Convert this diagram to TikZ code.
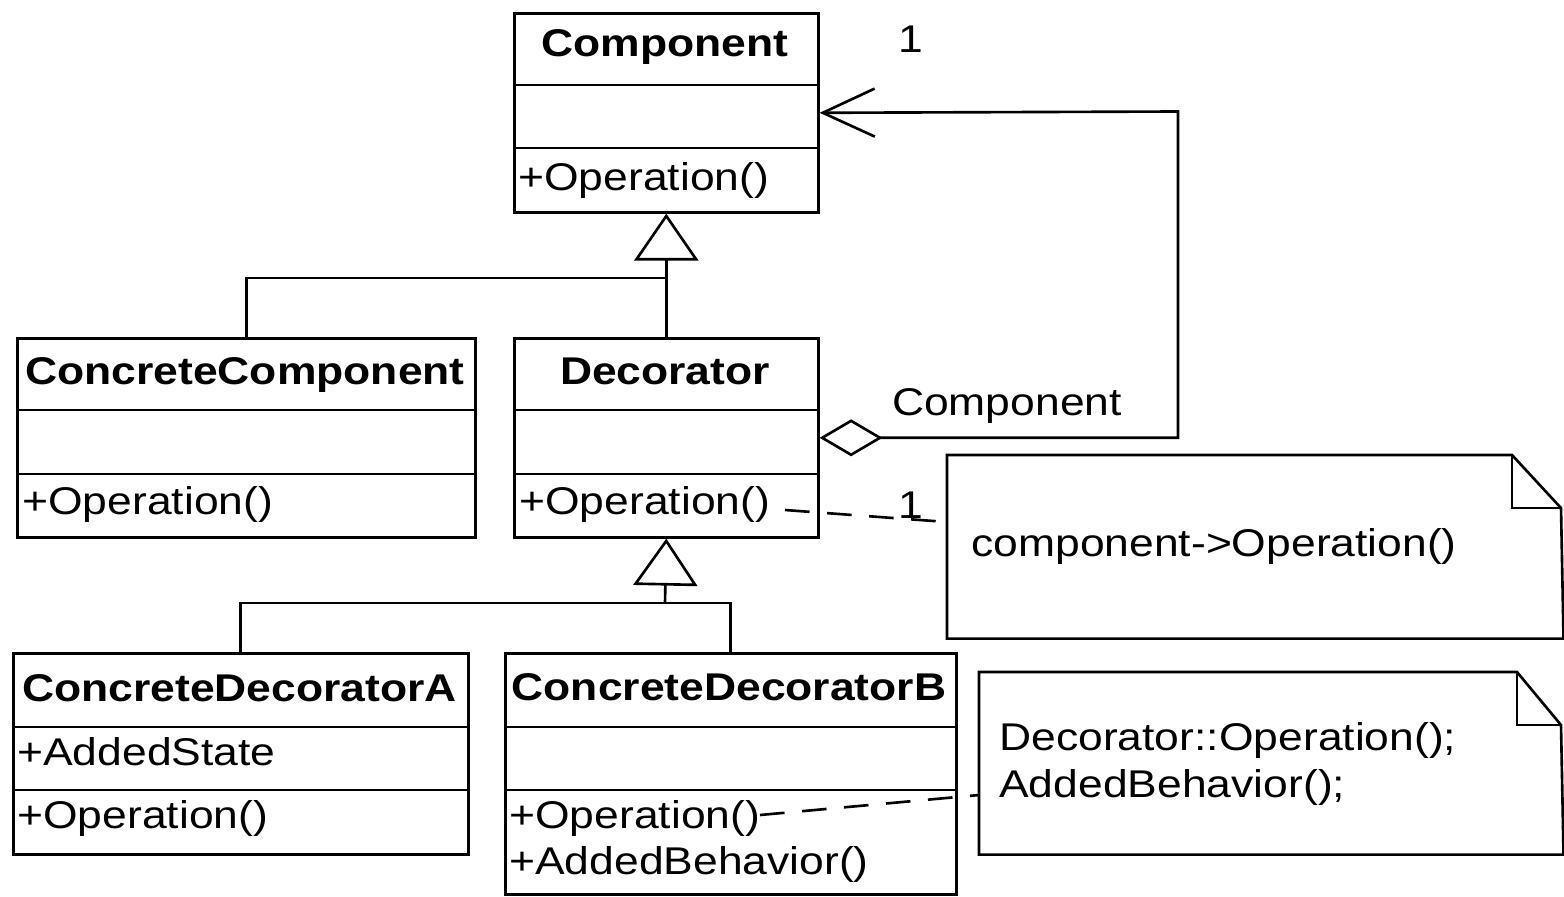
\documentclass[tikz,border=0pt]{standalone}
\usepackage{fontspec}
\setmainfont{Liberation Sans}[FakeStretch=1.15]
\usetikzlibrary{arrows.meta}
\begin{document}
\begin{tikzpicture}[x=0.02cm,y=-0.02cm,line width=1.5pt,
  every node/.style={inner sep=0pt, font=\fontsize{22}{26}\selectfont},
  classbox/.style={draw, rectangle, anchor=north west},
  notebox/.style={rectangle, anchor=north west},
  ttl/.style={anchor=base, font=\fontsize{22}{26}\selectfont\bfseries},
  item/.style={anchor=base west},
  lbl/.style={anchor=base},
  notedash/.style={dash pattern=on 14pt off 10pt},
  inh/.style={-{Triangle[open,length=0.94cm,width=1.28cm]}},
  assoc/.style={{Diamond[open,length=1.26cm,width=0.74cm]}-{Straight Barb[length=1.04cm,width=0.96cm]}},
]
\useasboundingbox (0,0) rectangle (1564,896);

% Component
\node[classbox, minimum width=6.08cm, minimum height=3.98cm] (comp) at (513,12) {};
\draw (comp.west |- 0,85) -- (comp.east |- 0,85);
\draw (comp.west |- 0,148) -- (comp.east |- 0,148);
\node[ttl] (compT) at (665,56) {Component};
\node[item] (compO) at (517,190) {+Operation()};

% ConcreteComponent
\node[classbox, minimum width=9.16cm, minimum height=3.98cm] (cc) at (16,337) {};
\draw (cc.west |- 0,410) -- (cc.east |- 0,410);
\draw (cc.west |- 0,474) -- (cc.east |- 0,474);
\node[ttl] (ccT) at (245,384) {ConcreteComponent};
\node[item] (ccO) at (21,514) {+Operation()};

% Decorator
\node[classbox, minimum width=6.08cm, minimum height=3.98cm] (dec) at (513,337) {};
\draw (dec.west |- 0,410) -- (dec.east |- 0,410);
\draw (dec.west |- 0,474) -- (dec.east |- 0,474);
\node[ttl] (decT) at (665,384) {Decorator};
\node[item] (decO) at (518,514) {+Operation()};

% ConcreteDecoratorA
\node[classbox, minimum width=9.10cm, minimum height=4.02cm] (cda) at (12,652) {};
\draw (cda.west |- 0,727) -- (cda.east |- 0,727);
\draw (cda.west |- 0,790) -- (cda.east |- 0,790);
\node[ttl] (cdaT) at (239.5,701) {ConcreteDecoratorA};
\node[item] (cdaS) at (16,765) {+AddedState};
\node[item] (cdaO) at (16,828) {+Operation()};

% ConcreteDecoratorB
\node[classbox, minimum width=9.02cm, minimum height=4.82cm] (cdb) at (504,652) {};
\draw (cdb.west |- 0,727) -- (cdb.east |- 0,727);
\draw (cdb.west |- 0,790) -- (cdb.east |- 0,790);
\node[ttl] (cdbT) at (729,700) {ConcreteDecoratorB};
\node[item] (cdbO) at (508,828) {+Operation()};
\node[item] (cdbB) at (508,874) {+AddedBehavior()};

% Note 1
\node[notebox, minimum width=12.28cm, minimum height=3.62cm] (note1) at (947,455) {};
\draw (note1.south west) -- (note1.north west) -- (1512,455) -- (1561,508) -- (note1.south east) -- cycle;
\draw (1512,455) -- (1512,508) -- (1561,508);
\node[item] (note1T) at (970,556) {component->Operation()};

% Note 2
\node[notebox, minimum width=11.64cm, minimum height=3.6cm] (note2) at (979,672) {};
\draw (note2.south west) -- (note2.north west) -- (1517,672) -- (1561,725) -- (note2.south east) -- cycle;
\draw (1517,672) -- (1517,725) -- (1561,725);
\node[item] (note2T) at (998,750) {Decorator::Operation();};
\node[item] (note2U) at (998,797) {AddedBehavior();};

% Generalisations
\coordinate (j1) at (665,278);
\draw (cc.north) |- (j1);
\draw[inh] (dec.north) -- (comp.south);
\coordinate (j2) at (665,603);
\draw (cda.north) |- (j2) -| (cdb.north);
\draw[inh] (j2) -- (dec.south);

% Aggregation / association
\coordinate (c1) at (1178,111.5);
\draw[assoc] (dec.east) -| (c1) -- (comp.east);
\node[lbl] (m1) at (911,52) {1};
\node[lbl] (rl) at (1007,415) {Component};

% Note links
\coordinate (d1) at (785,510);
\draw[notedash] (d1) -- (note1.west |- 0,522);
\node[lbl] (m2) at (911,518) {1};
\coordinate (d2) at (760,815);
\draw[notedash] (d2) -- (note2.west |- 0,795);
\end{tikzpicture}
\end{document}
